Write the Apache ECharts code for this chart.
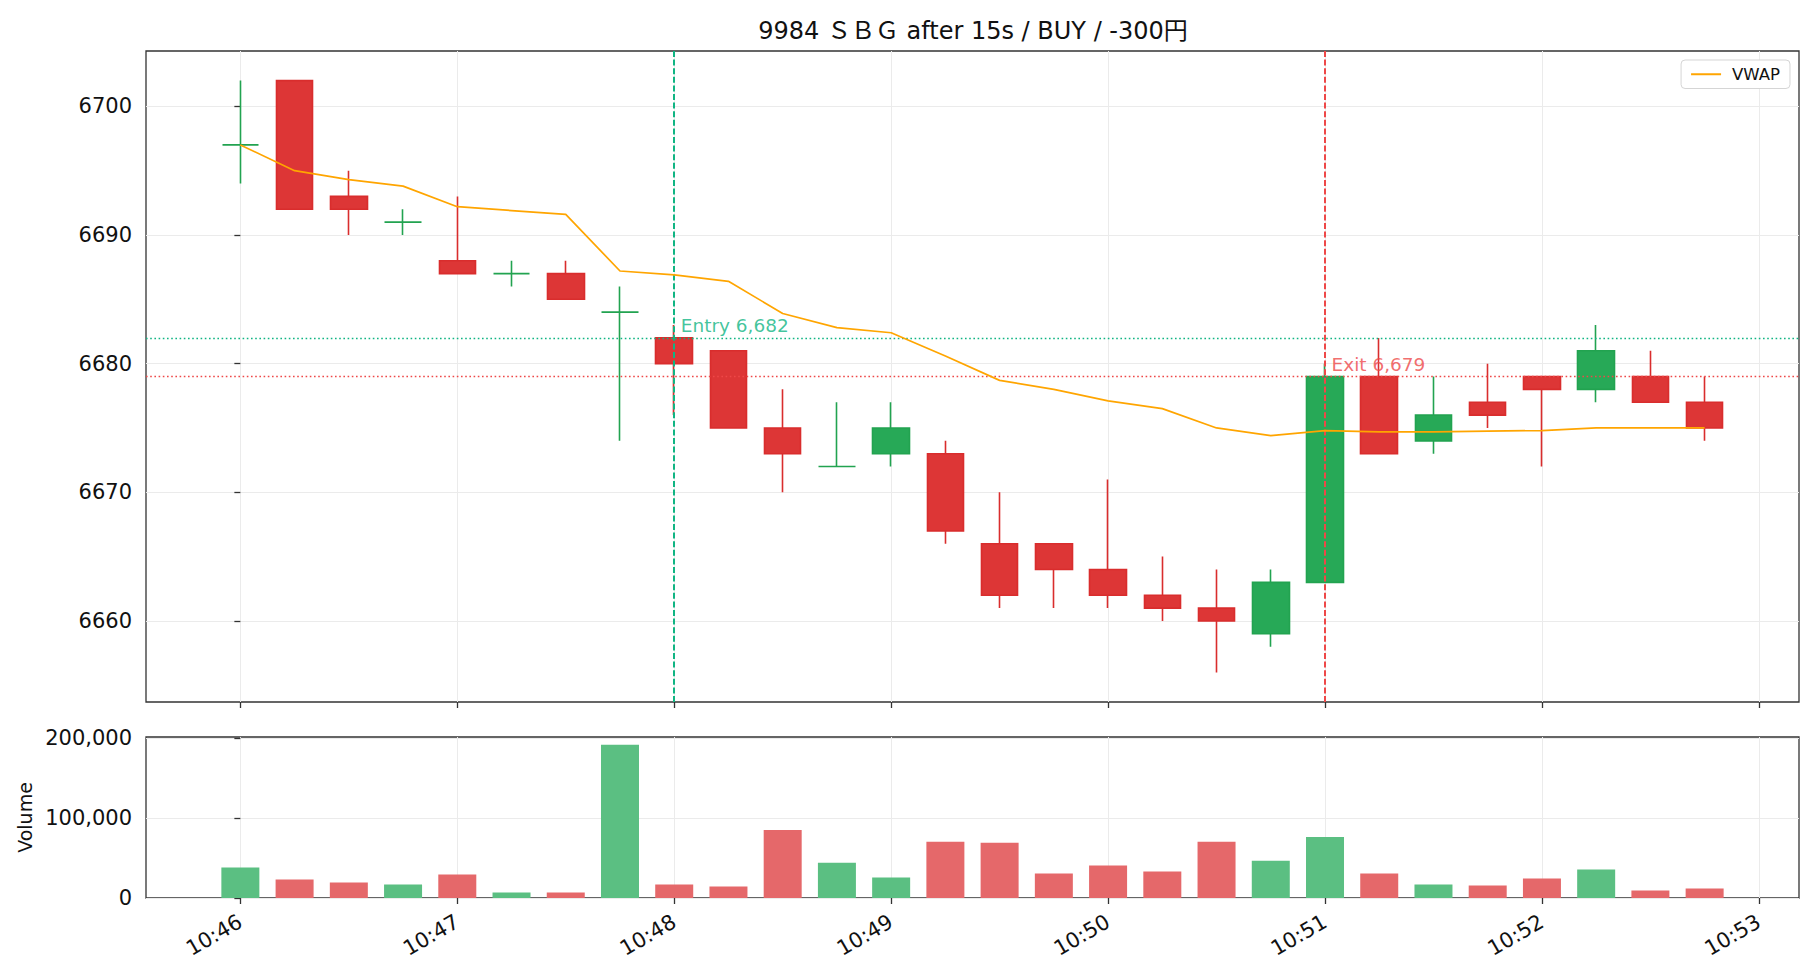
<!DOCTYPE html>
<html><head><meta charset="utf-8">
<script src="https://cdn.jsdelivr.net/npm/echarts@6/dist/echarts.min.js"></script>
<style>html,body{margin:0;padding:0;background:#fff}#c{width:1820px;height:980px}</style>
</head><body><div id="c"></div>
<script>
const times = ['10:46:00','10:46:15','10:46:30','10:46:45','10:47:00','10:47:15','10:47:30','10:47:45',
  '10:48:00','10:48:15','10:48:30','10:48:45','10:49:00','10:49:15','10:49:30','10:49:45',
  '10:50:00','10:50:15','10:50:30','10:50:45','10:51:00','10:51:15','10:51:30','10:51:45',
  '10:52:00','10:52:15','10:52:30','10:52:45'];
const openP  = [6697,6702,6693,6691,6688,6687,6687,6684,6682,6681,6675,6672,6673,6673,6666,6666,6664,6662,6661,6659,6663,6679,6674,6677,6679,6678,6679,6677];
const closeP = [6697,6692,6692,6691,6687,6687,6685,6684,6680,6675,6673,6672,6675,6667,6662,6664,6662,6661,6660,6663,6679,6673,6676,6676,6678,6681,6677,6675];
const highP  = [6702,6702,6695,6692,6693,6688,6688,6686,6683,6681,6678,6677,6677,6674,6670,6666,6671,6665,6664,6664,6680,6682,6679,6680,6679,6683,6681,6679];
const lowP   = [6694,6692,6690,6690,6687,6686,6685,6674,6676,6675,6670,6672,6672,6666,6661,6661,6661,6660,6656,6658,6663,6673,6673,6675,6672,6677,6677,6674];
const vwap   = [6697.0,6695.0,6694.3,6693.8,6692.2,6691.9,6691.6,6687.2,6686.9,6686.4,6683.9,6682.8,6682.4,6680.6,6678.7,6678.0,6677.1,6676.5,6675.0,6674.4,6674.8,6674.7,6674.7,6674.75,6674.8,6675.0,6675.0,6675.0];
const volume = [38000,23000,19400,16900,29300,7000,7000,191700,16900,14500,85100,44200,25600,70200,69000,30600,40500,33100,70200,46700,76400,30600,16900,15700,24400,35500,9500,12000];
const xTickLabels = ['10:46','10:47','10:48','10:49','10:50','10:51','10:52','10:53'];
const priceTicks = [6660,6670,6680,6690,6700];
const volumeTicks = [0,100000,200000];
const entryTime = '10:48:00', entryPrice = 6682;
const exitTime = '10:51:00', exitPrice = 6679;
const titleText = '9984 ＳＢＧ after 15s / BUY / -300円';

const FONT = '"DejaVu Sans", "Noto Sans CJK JP", sans-serif';
const BASE = 10*3600 + 46*60;
function toSec(s){const p=s.split(':').map(Number);return p[0]*3600+p[1]*60+(p[2]||0)-BASE;}
function fmtTime(v){const t=BASE+Math.round(v);const h=Math.floor(t/3600),m=Math.floor((t%3600)/60);return h+':'+String(m).padStart(2,'0');}
const xs = times.map(toSec);
const xTickVals = xTickLabels.map(toSec);
const XMIN = -26.1, XMAX = 431.1;

const UP = '#27a957', UPB = '#22a350', DN = '#dd3636', DNB = '#d92d2d';
const VUP = '#5bbf82', VDN = '#e5686a';
const ENTRY = '#10b583', EXIT = '#ee4848';

const candleData = xs.map((x,i)=>{
  const up = closeP[i] >= openP[i];
  const c = up?UP:DN, b = up?UPB:DNB;
  return {value:[x,openP[i],closeP[i],lowP[i],highP[i]],
    itemStyle:{color:c,color0:c,borderColor:b,borderColor0:b}};
});
const volData = xs.map((x,i)=>({value:[x,volume[i]],itemStyle:{color: closeP[i]>=openP[i]?VUP:VDN}}));
const vwapData = xs.map((x,i)=>[x,vwap[i]]);

const axisTxt = {fontFamily:FONT,fontSize:21,color:'#111'};
const tickStyle = {show:true,inside:false,length:6,lineStyle:{color:'#333',width:1.3}};
const splitStyle = {show:true,lineStyle:{color:'#ebebeb',width:1}};

const chart = echarts.init(document.getElementById('c'),null,{renderer:'svg'});
chart.setOption({
  backgroundColor:'#fff',
  animation:false,
  title:{text:titleText,left:968,top:14,textAlign:'center',
    textStyle:{fontFamily:FONT,fontSize:24,fontWeight:'normal',color:'#111'}},
  legend:{data:[{name:'VWAP',icon:'rect'}],right:30,top:60,padding:[6,10,6,10],borderColor:'#d5d5d5',borderWidth:1,borderRadius:4,
    itemWidth:30,itemHeight:2,itemGap:10,textStyle:{fontFamily:FONT,fontSize:16.5,color:'#111',padding:[0,0,0,6]},backgroundColor:'#fff'},
  grid:[
    {left:146,right:21,top:51,height:651,show:true,borderColor:'#333',borderWidth:1.3,backgroundColor:'transparent'},
    {left:146,right:21,top:737,height:161,show:true,borderColor:'#333',borderWidth:1.3,backgroundColor:'transparent'}
  ],
  xAxis:[
    {type:'value',gridIndex:0,min:XMIN,max:XMAX,axisLine:{show:false},
      axisTick:Object.assign({customValues:xTickVals},tickStyle),
      axisLabel:{show:false,customValues:xTickVals},splitLine:splitStyle},
    {type:'value',gridIndex:1,min:XMIN,max:XMAX,axisLine:{show:false},
      axisTick:Object.assign({customValues:xTickVals},tickStyle),
      axisLabel:Object.assign({customValues:xTickVals,rotate:30,margin:22,formatter:fmtTime},axisTxt),
      splitLine:splitStyle}
  ],
  yAxis:[
    {type:'value',gridIndex:0,min:6653.7,max:6704.3,axisLine:{show:false},
      axisTick:Object.assign({customValues:priceTicks},tickStyle),
      axisLabel:Object.assign({customValues:priceTicks,margin:14,formatter:v=>String(Math.round(v))},axisTxt),
      splitLine:splitStyle},
    {type:'value',gridIndex:1,min:0,max:201300,axisLine:{show:false},
      axisTick:Object.assign({customValues:volumeTicks},tickStyle),
      axisLabel:Object.assign({customValues:volumeTicks,margin:14,formatter:v=>Math.round(v).toLocaleString('en-US')},axisTxt),
      splitLine:splitStyle,
      name:'Volume',nameLocation:'middle',nameGap:112,nameRotate:90,
      nameTextStyle:{fontFamily:FONT,fontSize:19,color:'#111'}}
  ],
  series:[
    {type:'candlestick',name:'OHLC',xAxisIndex:0,yAxisIndex:0,barWidth:37,
      encode:{x:0,y:[1,2,3,4]},data:candleData,z:3,
      itemStyle:{borderWidth:1.6},
      markLine:{silent:true,symbol:['none','none'],label:{show:false},animation:false,
        data:[
          {yAxis:entryPrice,lineStyle:{color:ENTRY,type:[1.6,2.6],width:1.4}},
          {yAxis:exitPrice,lineStyle:{color:EXIT,type:[1.6,2.6],width:1.4}},
          {xAxis:toSec(entryTime),lineStyle:{color:ENTRY,type:[6,2.6],width:2}},
          {xAxis:toSec(exitTime),lineStyle:{color:EXIT,type:[6,2.6],width:2}}
        ]}
    },
    {type:'line',name:'VWAP',xAxisIndex:0,yAxisIndex:0,data:vwapData,symbol:'none',z:5,
      lineStyle:{color:'#ffa500',width:1.7},itemStyle:{color:'#ffa500'}},
    {type:'scatter',name:'labels',xAxisIndex:0,yAxisIndex:0,symbolSize:1,z:6,silent:true,
      itemStyle:{color:'transparent'},
      data:[
        {value:[toSec(entryTime),entryPrice],label:{show:true,position:'right',distance:6,offset:[0,-12],
          formatter:'Entry '+entryPrice.toLocaleString('en-US'),fontFamily:FONT,fontSize:18.5,color:ENTRY}},
        {value:[toSec(exitTime),exitPrice],label:{show:true,position:'right',distance:6,offset:[0,-12],
          formatter:'Exit '+exitPrice.toLocaleString('en-US'),fontFamily:FONT,fontSize:18.5,color:EXIT}}
      ]},
    {type:'bar',name:'Volume',xAxisIndex:1,yAxisIndex:1,barWidth:38,data:volData,z:3}
  ]
});
</script></body></html>
